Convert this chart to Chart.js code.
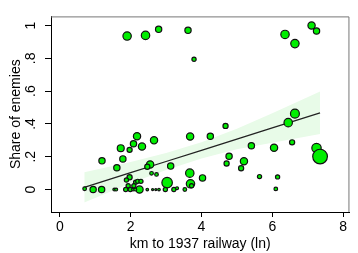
<!DOCTYPE html>
<html>
<head>
<meta charset="utf-8">
<script src="https://cdn.jsdelivr.net/npm/chart.js@4.4.0/dist/chart.umd.min.js"></script>
<style>
  body { margin: 0; background: #fff; }
  #wrap { width: 358px; height: 253px; }
</style>
</head>
<body>
<div id="wrap"><canvas id="c" width="358" height="253"></canvas></div>
<script>
// district observations: distance to railway (ln km), share of enemies, weight
const distLn = [
  1.90, 2.42, 2.79, 3.62, 3.79, 6.36, 6.64, 7.11, 7.25, 6.64,
  6.45, 4.68, 4.25, 5.41, 6.05, 4.78, 5.20, 4.71, 5.12, 5.64,
  4.03, 6.10, 6.56, 7.25, 7.35, 6.15, 3.67, 3.69, 3.53, 2.18,
  2.66, 3.68, 2.08, 2.32, 1.97, 2.55, 2.47, 3.13, 2.59, 2.73,
  1.97, 1.88, 3.03, 2.14, 2.20, 2.29, 2.25, 2.09, 1.93, 1.86,
  1.99, 2.62, 2.71, 2.98, 3.22, 3.72, 0.70, 0.94, 1.18, 1.54,
  1.59, 1.19, 1.72, 1.78, 1.61, 2.47, 2.80, 2.07, 2.13, 3.31
];
const enemyShare = [
  0.936, 0.940, 0.977, 0.971, 0.795, 0.946, 0.890, 1.000, 0.967, 0.463,
  0.408, 0.388, 0.325, 0.267, 0.255, 0.203, 0.172, 0.159, 0.130, 0.079,
  0.071, 0.004, 0.288, 0.253, 0.201, 0.077, 0.100, 0.035, 0.000, 0.325,
  0.300, 0.323, 0.279, 0.262, 0.242, 0.153, 0.139, 0.143, 0.099, 0.092,
  0.075, 0.058, 0.042, 0.045, 0.050, 0.050, 0.000, 0.023, 0.023, 0.000,
  0.000, 0.000, 0.000, 0.000, 0.000, 0.023, 0.005, 0.000, 0.000, 0.000,
  0.000, 0.175, 0.252, 0.187, 0.133, 0.000, 0.000, 0.000, 0.000, 0.008
];
const weight = [
  16, 16, 9, 9, 4, 16, 16, 12, 9, 18,
  16, 6, 9, 9, 12, 9, 12, 6, 6, 4,
  9, 3, 6, 20, 49, 4, 16, 16, 3, 12,
  12, 12, 9, 12, 6, 12, 6, 9, 3, 3,
  6, 4, 25, 4, 4, 4, 12, 4, 4, 4,
  4, 1, 1, 4, 4, 4, 3, 9, 9, 2,
  2, 9, 11, 9, 9, 1.5, 1.5, 2, 2, 2
];

// linear fit with 95% CI
const fitX = [0.69, 2, 3, 4, 5, 6, 7.35];
const fitY = [0.013, 0.103, 0.171, 0.239, 0.308, 0.376, 0.468];
const ciUpper = [0.105, 0.168, 0.223, 0.289, 0.370, 0.466, 0.598];
const ciLower = [-0.079, 0.038, 0.119, 0.189, 0.246, 0.286, 0.338];

const xTicks = [0, 2, 4, 6, 8];
const yTicks = [0, 0.2, 0.4, 0.6, 0.8, 1];
const yTickLabels = ["0", ".2", ".4", ".6", ".8", "1"];

const FONT = "'Liberation Sans', Arial, Helvetica, sans-serif";

const pts = (xs, ys) => xs.map((x, i) => ({ x: x, y: ys[i] }));

const frame = {
  id: "frame",
  afterDraw(chart) {
    const { ctx, chartArea: a } = chart;
    ctx.save();
    ctx.strokeStyle = "#777";
    ctx.lineWidth = 1;
    ctx.beginPath();
    ctx.moveTo(a.left, a.top + 0.5);
    ctx.lineTo(a.right - 0.5, a.top + 0.5);
    ctx.lineTo(a.right - 0.5, a.bottom);
    ctx.stroke();
    ctx.restore();
  },
};

new Chart(document.getElementById("c"), {
  type: "bubble",
  data: {
    datasets: [
      {
        type: "line",
        data: pts(fitX, ciUpper),
        borderWidth: 0,
        pointRadius: 0,
        backgroundColor: "#e8fbe8",
        fill: "+1",
        order: 3,
      },
      {
        type: "line",
        data: pts(fitX, ciLower),
        borderWidth: 0,
        pointRadius: 0,
        fill: false,
        order: 3,
      },
      {
        type: "line",
        data: pts(fitX, fitY),
        borderColor: "#222",
        borderWidth: 1.3,
        pointRadius: 0,
        fill: false,
        order: 2,
      },
      {
        data: distLn.map((x, i) => ({ x: x, y: enemyShare[i], r: 1.05 * Math.sqrt(weight[i]) })),
        backgroundColor: "#00ee00",
        borderColor: "#111",
        borderWidth: 1.2,
        order: 1,
      },
    ],
  },
  options: {
    responsive: false,
    animation: false,
    devicePixelRatio: 1,
    layout: { padding: { top: 6, right: 1, left: 0, bottom: 0 } },
    plugins: { legend: { display: false }, tooltip: { enabled: false } },
    scales: {
      x: {
        type: "linear",
        min: -0.25,
        max: 8.18,
        afterBuildTicks: (s) => { s.ticks = xTicks.map((v) => ({ value: v })); },
        afterFit: (s) => { s.height = 41; },
        grid: { drawOnChartArea: false, drawTicks: true, tickLength: 5, color: "#000" },
        border: { color: "#000", width: 1 },
        ticks: { color: "#000", padding: 2, font: { family: FONT, size: 14 } },
        title: {
          display: true,
          text: "km to 1937 railway (ln)",
          color: "#000",
          font: { family: FONT, size: 14 },
          padding: { top: 0, bottom: 0 },
        },
      },
      y: {
        type: "linear",
        min: -0.137,
        max: 1.056,
        afterBuildTicks: (s) => { s.ticks = yTicks.map((v) => ({ value: v })); },
        afterFit: (s) => { s.width = 51; },
        grid: { drawOnChartArea: false, drawTicks: true, tickLength: 6, color: "#000" },
        border: { color: "#000", width: 1 },
        ticks: {
          color: "#000",
          padding: 8,
          minRotation: 90,
          maxRotation: 90,
          crossAlign: "center",
          font: { family: FONT, size: 14 },
          callback: (v, i) => yTickLabels[i],
        },
        title: {
          display: true,
          text: "Share of enemies",
          color: "#000",
          font: { family: FONT, size: 14 },
          padding: { top: 7.5, bottom: 0 },
        },
      },
    },
  },
  plugins: [frame],
});
</script>
</body>
</html>
